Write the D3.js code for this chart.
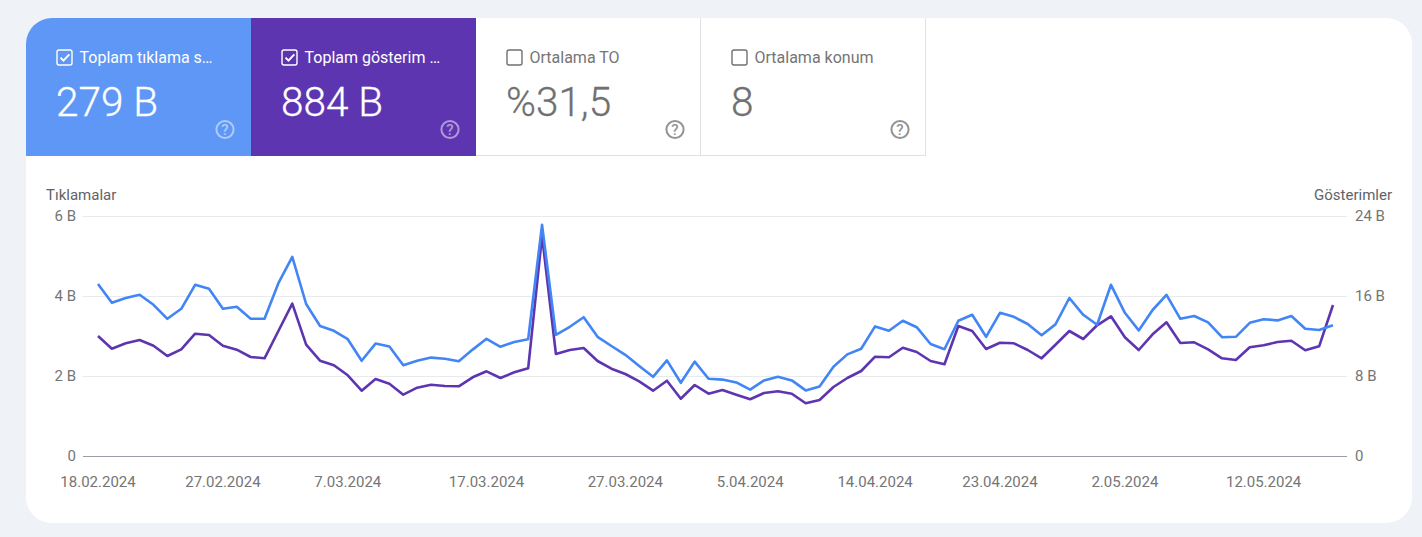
<!DOCTYPE html>
<html lang="tr">
<head>
<meta charset="utf-8">
<script src="https://cdn.jsdelivr.net/npm/d3@7"></script>
<style>
html,body{margin:0;padding:0;background:#eff3f8;overflow:hidden}
svg{display:block}
text{font-family:Roboto,sans-serif}
.domain{display:none}
</style>
</head>
<body>
<svg id="c" width="1422" height="537"></svg>
<script>
const startDate = "2024-02-18";
const tickDates = ["2024-02-18","2024-02-27","2024-03-07","2024-03-17","2024-03-27","2024-04-05","2024-04-14","2024-04-23","2024-05-02","2024-05-12"];
const tickLabels = ["18.02.2024","27.02.2024","7.03.2024","17.03.2024","27.03.2024","5.04.2024","14.04.2024","23.04.2024","2.05.2024","12.05.2024"];
const clicksTicks = [0,2,4,6];
const clicksTickLabels = ["0","2 B","4 B","6 B"];
const imprTicks = [0,8,16,24];
const imprTickLabels = ["0","8 B","16 B","24 B"];
const clicks = [4.30,3.83,3.95,4.03,3.78,3.43,3.68,4.28,4.18,3.68,3.73,3.43,3.43,4.32,4.98,3.80,3.25,3.13,2.92,2.38,2.81,2.74,2.27,2.38,2.46,2.43,2.37,2.66,2.93,2.73,2.85,2.92,5.78,3.03,3.23,3.47,2.98,2.75,2.53,2.25,1.98,2.39,1.83,2.36,1.93,1.91,1.84,1.66,1.89,1.98,1.89,1.64,1.74,2.23,2.54,2.68,3.24,3.13,3.38,3.22,2.80,2.67,3.38,3.53,2.98,3.58,3.48,3.30,3.02,3.29,3.95,3.53,3.28,4.28,3.58,3.14,3.65,4.03,3.43,3.50,3.34,2.97,2.98,3.33,3.42,3.39,3.50,3.18,3.15,3.27];
const impressions = [12.0,10.73,11.27,11.6,11.03,10.0,10.67,12.23,12.1,11.03,10.63,9.9,9.77,12.5,15.23,11.13,9.53,9.07,8.07,6.53,7.7,7.23,6.13,6.83,7.13,7.0,6.97,7.87,8.47,7.8,8.37,8.77,22.0,10.2,10.6,10.8,9.5,8.73,8.2,7.47,6.53,7.53,5.73,7.1,6.23,6.6,6.13,5.67,6.3,6.47,6.23,5.27,5.6,6.9,7.8,8.5,9.93,9.87,10.83,10.4,9.5,9.17,13.0,12.5,10.7,11.33,11.27,10.6,9.77,11.13,12.5,11.7,13.07,13.97,11.87,10.6,12.17,13.37,11.3,11.37,10.67,9.77,9.6,10.87,11.07,11.4,11.53,10.57,10.97,15.1];
const tabTitles = ["Toplam tıklama s…","Toplam gösterim …","Ortalama TO","Ortalama konum"];
const tabValues = ["279 B","884 B","%31,5","8"];
const tabChecked = [true,true,false,false];
const tabFills = ["#5e97f6","#5e35b1","#ffffff","#ffffff"];

const svg = d3.select("#c");
const dayIndex = i => d3.utcDay.offset(new Date(startDate), i);

// card
svg.append("rect").attr("x",26).attr("y",18).attr("width",1386).attr("height",505).attr("rx",26).attr("fill","#fff");

// tabs
const clipDefs = svg.append("defs");
clipDefs.append("clipPath").attr("id","cardClip").append("rect")
  .attr("x",26).attr("y",18).attr("width",1386).attr("height",505).attr("rx",26);
const tabs = svg.append("g").attr("clip-path","url(#cardClip)");
tabTitles.forEach((t,i)=>{
  const x = 26+225*i, on = tabChecked[i];
  const g = tabs.append("g").attr("transform",`translate(${x},18)`);
  g.append("rect").attr("width",225).attr("height",138).attr("fill",tabFills[i]);
  if(!on){
    g.append("path").attr("d","M0,137.5H225M224.5,0V138").attr("fill","none").attr("stroke","#dfe1e5").attr("stroke-width",1);
  }
  const fg = on ? "#fff" : "#707070";
  g.append("rect").attr("x",31).attr("y",32).attr("width",15).attr("height",15).attr("rx",2)
    .attr("fill","none").attr("stroke",on?"#fff":"#707070").attr("stroke-width",1.4);
  if(on) g.append("path").attr("d","M34.5,39.6l3,3l5.8,-6.2").attr("fill","none").attr("stroke","#fff").attr("stroke-width",2);
  g.append("text").attr("x",53.5).attr("y",45).attr("font-size",16).attr("fill",on?"#fff":"#757575").text(t);
  g.append("text").attr("x",30).attr("y",98).attr("font-size",40.5).attr("font-weight",300).attr("fill",fg)
    .attr("stroke",fg).attr("stroke-width",0.3).text(tabValues[i]);
  const h = g.append("g").attr("transform","translate(199,111.5)").attr("opacity",on?0.5:0.75);
  h.append("circle").attr("r",8.6).attr("fill","none").attr("stroke",on?"#fff":"#707070").attr("stroke-width",2);
  h.append("text").attr("y",5.2).attr("text-anchor","middle").attr("font-size",15).attr("font-weight",500).attr("fill",on?"#fff":"#707070").text("?");
});

// scales
const x = d3.scaleUtc().domain([dayIndex(0),dayIndex(clicks.length-1)]).range([98,1333]);
const yL = d3.scaleLinear().domain([0,6]).range([456,216]);
const yR = d3.scaleLinear().domain([0,24]).range([456,216]);

// gridlines
const gridG = svg.append("g");
clicksTicks.forEach(v=>{
  gridG.append("line").attr("x1",83).attr("x2",1347).attr("y1",yL(v)+.5).attr("y2",yL(v)+.5)
    .attr("stroke",v===0?"#9aa0a6":"#e8eaed").attr("stroke-width",1);
});

// axes
const axisText = s => s.selectAll("text").attr("fill","#757575").attr("font-size",15).attr("font-family","Roboto,sans-serif");
const left = svg.append("g").attr("transform","translate(83,-0.5)")
  .call(d3.axisLeft(yL).tickValues(clicksTicks).tickSize(0).tickPadding(7).tickFormat((d,i)=>clicksTickLabels[i]));
axisText(left);
const right = svg.append("g").attr("transform","translate(1347,-0.5)")
  .call(d3.axisRight(yR).tickValues(imprTicks).tickSize(0).tickPadding(8).tickFormat((d,i)=>imprTickLabels[i]));
axisText(right);
const bottom = svg.append("g").attr("transform","translate(-0.5,456)")
  .call(d3.axisBottom(x).tickValues(tickDates.map(d=>new Date(d))).tickSize(0).tickPadding(20).tickFormat((d,i)=>tickLabels[i]));
axisText(bottom);

svg.append("text").attr("x",46).attr("y",200).attr("font-size",15).attr("fill","#5f6368").text("Tıklamalar");
svg.append("text").attr("x",1392).attr("y",200).attr("text-anchor","end").attr("font-size",15).attr("fill","#5f6368").text("Gösterimler");

// lines
const lineL = d3.line().x((d,i)=>x(dayIndex(i))).y(d=>yL(d));
const lineR = d3.line().x((d,i)=>x(dayIndex(i))).y(d=>yR(d));
svg.append("path").datum(impressions).attr("d",lineR).attr("fill","none").attr("stroke","#5e35b1").attr("stroke-width",2.6).attr("stroke-linejoin","round");
svg.append("path").datum(clicks).attr("d",lineL).attr("fill","none").attr("stroke","#4285f4").attr("stroke-width",2.6).attr("stroke-linejoin","round");
</script>
</body>
</html>
